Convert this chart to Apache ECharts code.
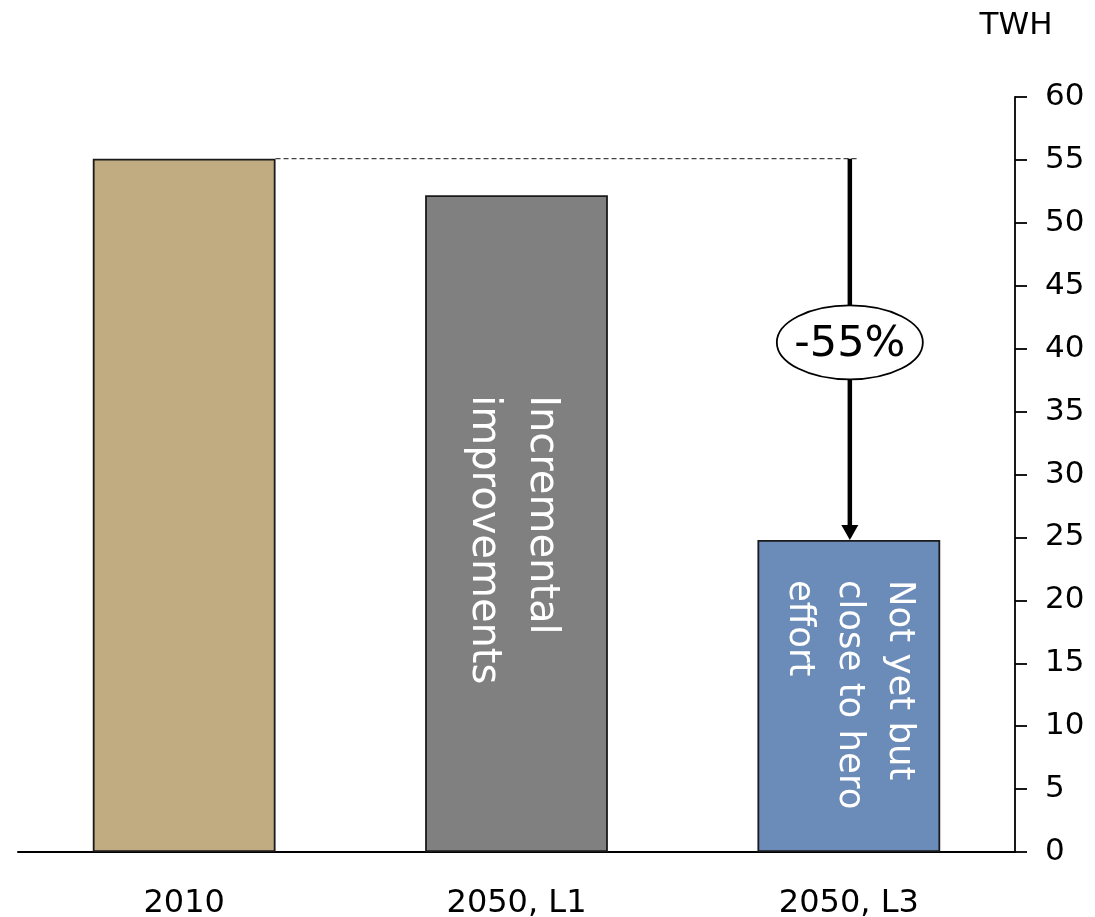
<!DOCTYPE html>
<html>
<head>
<meta charset="utf-8">
<script src="https://cdn.jsdelivr.net/npm/echarts@6/dist/echarts.min.js"></script>
<style>
  html, body { margin: 0; padding: 0; background: #fff; }
  #chart { width: 1095px; height: 917px; }
</style>
</head>
<body>
<div id="chart"></div>
<script>
// Electricity demand, TWh
const categories = ['2010', '2050, L1', '2050, L3'];
const values = [55.1, 52.2, 24.8];
const barColors = ['#C1AB81', '#808080', '#6B8BB8'];
const barTexts = ['', 'Incremental\nimprovements', 'Not yet but\nclose to hero\neffort'];
const changeLabel = '-55%';
const unitLabel = 'TWH';
const yTicks = { min: 0, max: 60, interval: 5 };

const FONT = 'DejaVu Sans';
const chart = echarts.init(document.getElementById('chart'), null, { renderer: 'canvas' });

// in-bar label placement (pixel offset from the bar top, font size, line pitch)
const textPlacement = [null, { offset: 200, size: 40, lh: 58, dx: '48%' }, { offset: 40, size: 35.5, lh: 50, dx: '50%' }];

const data = values.map((v, i) => {
  const item = {
    value: v,
    itemStyle: { color: barColors[i], borderColor: '#1a1a1a', borderWidth: 1.8 }
  };
  if (barTexts[i]) {
    const p = textPlacement[i];
    item.label = {
      show: true,
      formatter: barTexts[i],
      position: [p.dx, p.offset],
      rotate: -90,
      align: 'left',
      verticalAlign: 'middle',
      color: '#ffffff',
      fontFamily: FONT,
      fontSize: p.size,
      lineHeight: p.lh
    };
  }
  return item;
});

chart.setOption({
  animation: false,
  grid: { left: 18, right: 80, top: 97, bottom: 65, outerBoundsMode: 'none', containLabel: false },
  xAxis: {
    type: 'category',
    data: categories,
    axisLine: { show: true, lineStyle: { color: '#000', width: 2 } },
    axisTick: { show: false },
    axisLabel: { color: '#000', fontFamily: FONT, fontSize: 32, margin: 36 }
  },
  yAxis: {
    type: 'value',
    position: 'right',
    min: yTicks.min, max: yTicks.max, interval: yTicks.interval,
    splitLine: { show: false },
    axisLine: { show: true, lineStyle: { color: '#000', width: 1.8 } },
    axisTick: { show: true, inside: false, length: 12, lineStyle: { color: '#000', width: 1.8 } },
    axisLabel: { color: '#000', fontFamily: FONT, fontSize: 31, margin: 30, align: 'left' }
  },
  series: [{
    type: 'bar',
    data: data,
    barWidth: '55%',
    label: { show: false }
  }]
});

// Annotation: dashed reference level, arrow and percentage change bubble
function drawAnnotation() {
  const px = (c, v) => chart.convertToPixel({ xAxisIndex: 0, yAxisIndex: 0 }, [c, v]);
  const band = px(1, 0)[0] - px(0, 0)[0];
  const halfBar = band * 0.55 / 2;
  const start = px(0, values[0]);
  const end = px(2, values[2]);
  const top = px(2, values[0]);
  const bubble = px(2, 40.5);
  const ax = end[0] + 1;
  const headH = 15, headW = 17;

  chart.setOption({
    graphic: [
      {
        type: 'line', z: 10,
        shape: { x1: start[0] + halfBar, y1: start[1], x2: ax + 8, y2: start[1] },
        style: { stroke: '#444', lineWidth: 1.2, lineDash: [5, 3] }
      },
      {
        type: 'line', z: 11,
        shape: { x1: ax, y1: top[1], x2: ax, y2: end[1] - headH + 1 },
        style: { stroke: '#000', lineWidth: 4.5 }
      },
      {
        type: 'polygon', z: 11,
        shape: { points: [[ax - headW / 2, end[1] - headH], [ax + headW / 2, end[1] - headH], [ax, end[1]]] },
        style: { fill: '#000' }
      },
      {
        type: 'ellipse', z: 12,
        shape: { cx: ax, cy: bubble[1], rx: 73, ry: 37 },
        style: { fill: '#fff', stroke: '#000', lineWidth: 1.8 }
      },
      {
        type: 'text', z: 13,
        x: ax, y: bubble[1] + 2,
        style: { text: changeLabel, fill: '#000', font: '43px "' + FONT + '"', align: 'center', verticalAlign: 'middle' }
      },
      {
        type: 'text', z: 13,
        x: px(2, 0)[0] + band / 2 + 1, y: 26,
        style: { text: unitLabel, fill: '#000', font: '31px "' + FONT + '"', align: 'center', verticalAlign: 'middle' }
      }
    ]
  });
}
drawAnnotation();
</script>
</body>
</html>
